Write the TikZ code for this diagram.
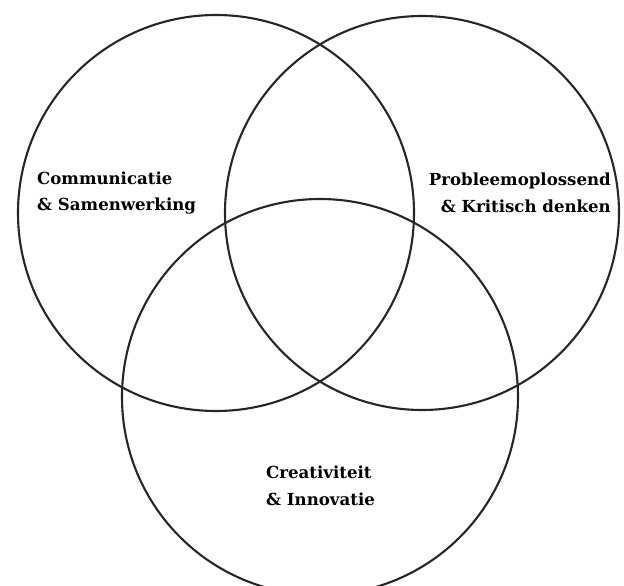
\documentclass[tikz,border=0pt]{standalone}
\usepackage{fontspec}
\setmainfont{DejaVu Serif}
\usepackage{tikz}
\usetikzlibrary{calc}

\tikzset{
  ring/.style={line width=2.1pt, color=black!85},
  skill/.style={font=\bfseries\fontsize{16.6}{26.5}\selectfont, inner sep=0pt}
}

\begin{document}
\begin{tikzpicture}[x=1pt, y=-1pt]
\useasboundingbox (0,0) rectangle (624,586);

  \draw[ring] (216,213) circle (198);
  \draw[ring] (422,213) circle (197);
\draw[ring] (320,397) circle (198);

\node[skill, anchor=west, align=left] (comm) at (37,193) {Communicatie\\\& Samenwerking};
\node[skill, anchor=east, align=right] (prob) at (611,193) {Probleemoplossend\\\& Kritisch denken};
\node[skill, anchor=west, align=left] (crea) at (266,486) {Creativiteit\\\& Innovatie};

\end{tikzpicture}
\end{document}
